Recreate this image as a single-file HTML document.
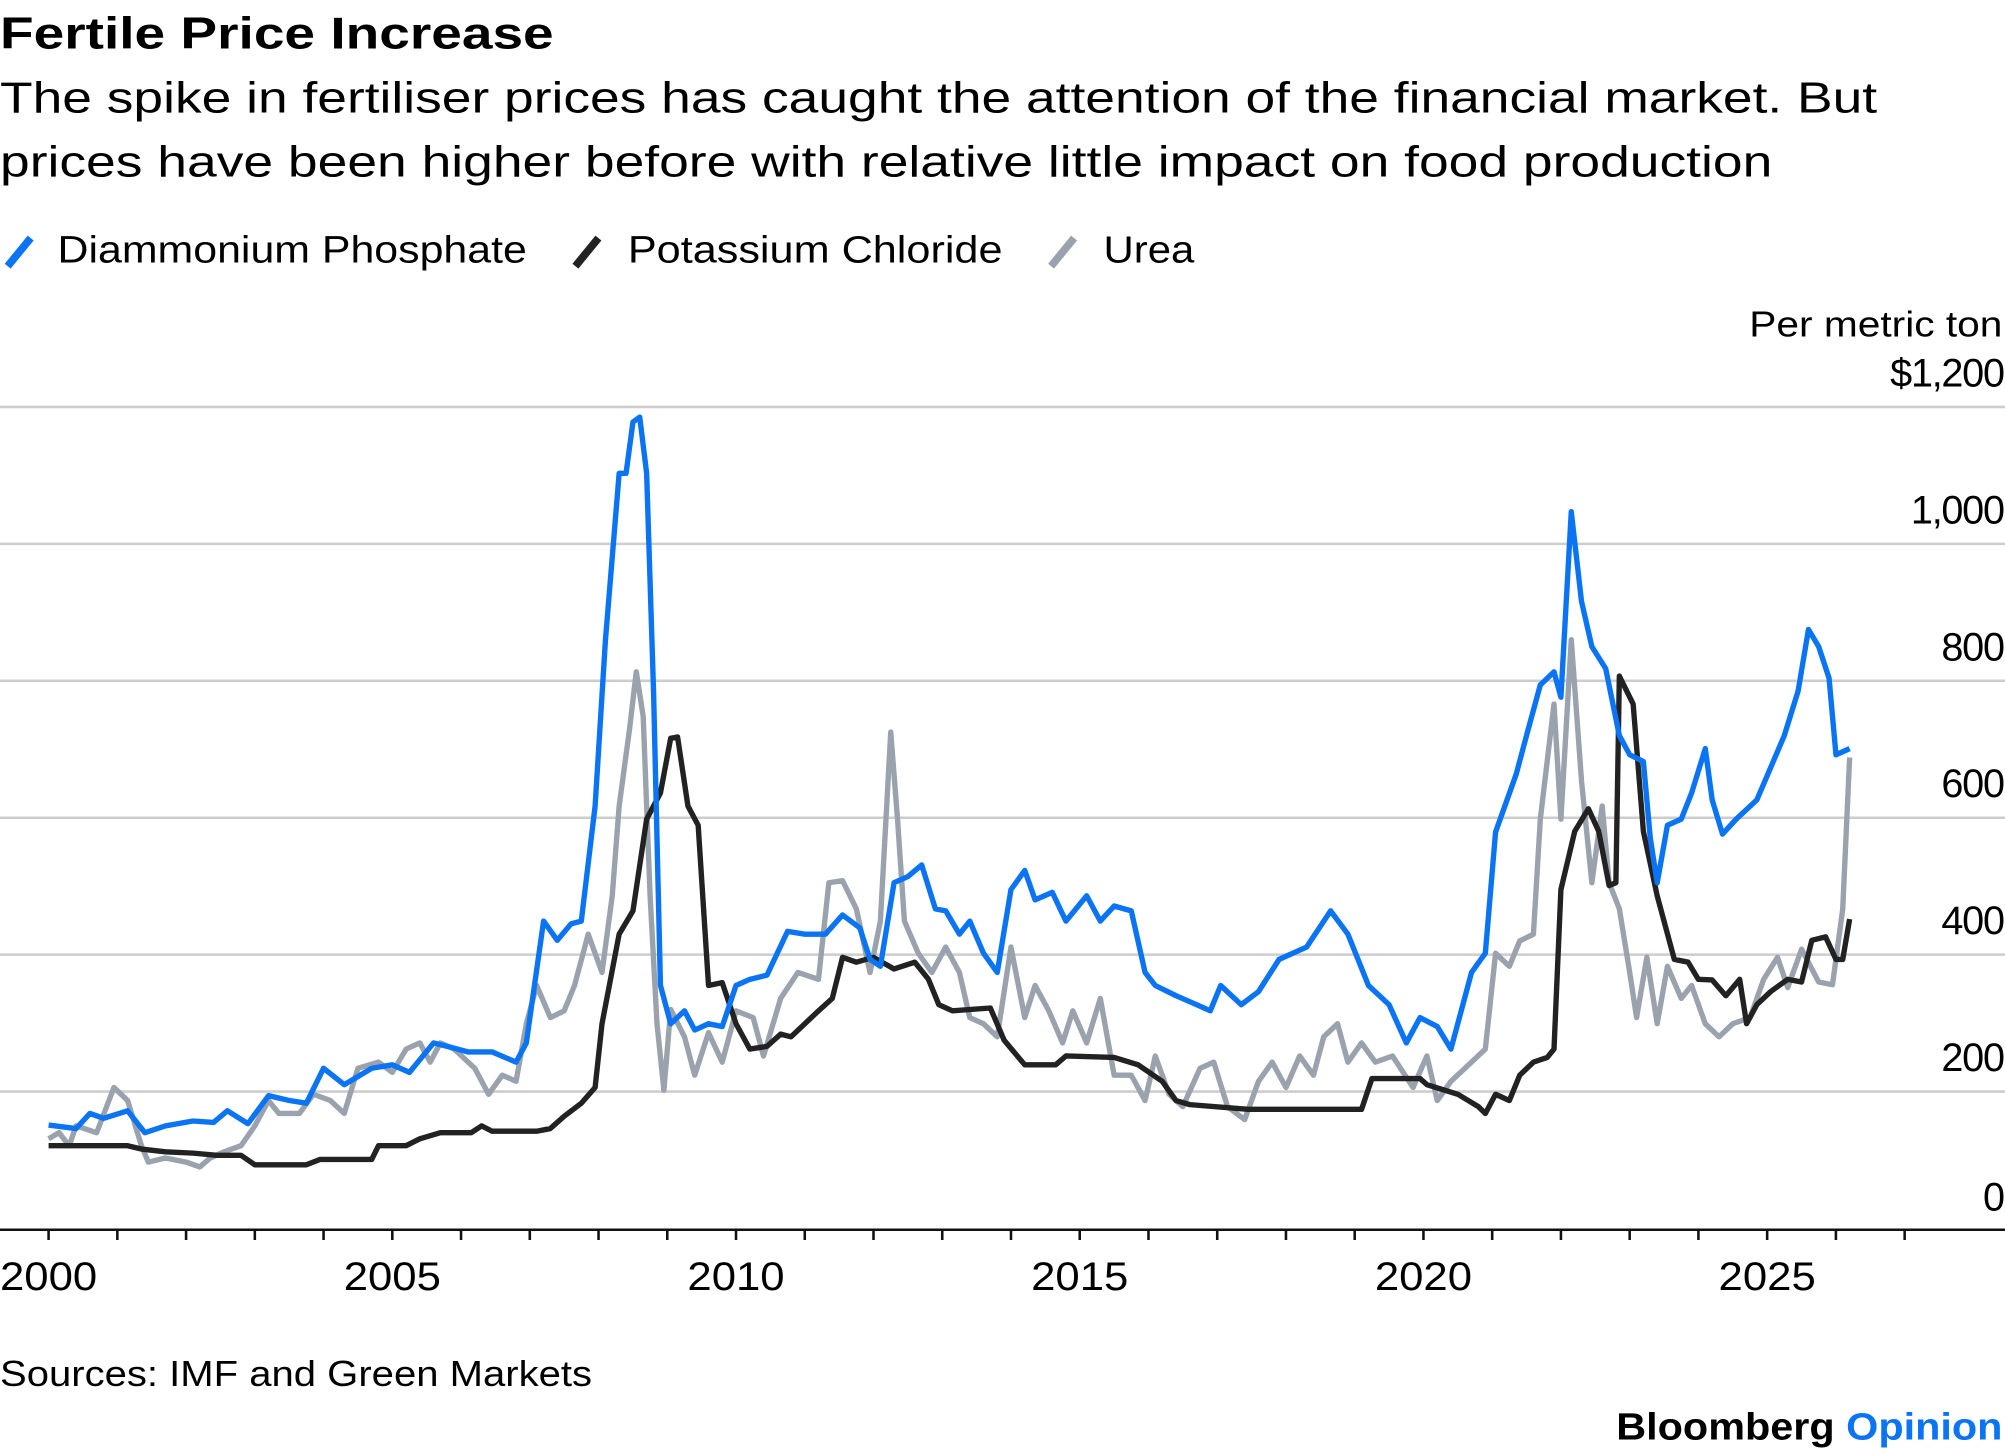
<!DOCTYPE html>
<html><head><meta charset="utf-8"><style>
html,body{margin:0;padding:0;background:#fff;}
svg{display:block;font-family:"Liberation Sans",Arial,sans-serif;}
</style></head><body>
<svg id="chart" width="2005" height="1455" viewBox="0 0 1568 1137" preserveAspectRatio="none" xmlns="http://www.w3.org/2000/svg">
<text x="0" y="38" font-size="35" font-weight="bold" textLength="433" lengthAdjust="spacingAndGlyphs">Fertile Price Increase</text>
<text x="0" y="88" font-size="34" textLength="1468" lengthAdjust="spacingAndGlyphs">The spike in fertiliser prices has caught the attention of the financial market. But</text>
<text x="0" y="138" font-size="34" textLength="1386" lengthAdjust="spacingAndGlyphs">prices have been higher before with relative little impact on food production</text>
<g>
<g><line x1="6" y1="208" x2="24" y2="186" stroke="#0a74f5" stroke-width="6"/><text x="45" y="205" font-size="30" textLength="367" lengthAdjust="spacingAndGlyphs">Diammonium Phosphate</text></g>
<g><line x1="450" y1="208" x2="468" y2="186" stroke="#222" stroke-width="6"/><text x="491" y="205" font-size="30" textLength="293" lengthAdjust="spacingAndGlyphs">Potassium Chloride</text></g>
<g><line x1="822" y1="208" x2="840" y2="186" stroke="#9aa3ad" stroke-width="6"/><text x="863" y="205" font-size="30" textLength="71" lengthAdjust="spacingAndGlyphs">Urea</text></g>
</g>
<text x="1368" y="263" font-size="28" textLength="198" lengthAdjust="spacingAndGlyphs">Per metric ton</text>
<g id="grid"></g>
<g id="ylabels"></g>
<g id="xaxis"></g>
<g id="series"></g>
<text x="0" y="1083" font-size="28" textLength="463" lengthAdjust="spacingAndGlyphs">Sources: IMF and Green Markets</text>
<text x="1264" y="1125" font-size="30" font-weight="bold" textLength="302" lengthAdjust="spacingAndGlyphs">Bloomberg <tspan fill="#0a74f5">Opinion</tspan></text>
</svg>
<script>
const yTicks = [0,200,400,600,800,1000,1200];
const yTickLabels = ["0","200","400","600","800","1,000","$1,200"];
const xTickYears = [2000,2005,2010,2015,2020,2025];
const dapDates = [2000.0,2000.4,2000.6,2000.8,2001.15,2001.4,2001.7,2002.1,2002.4,2002.6,2002.9,2003.2,2003.5,2003.75,2004.0,2004.3,2004.7,2005.0,2005.25,2005.6,2005.8,2006.1,2006.45,2006.8,2006.95,2007.2,2007.4,2007.6,2007.75,2007.95,2008.1,2008.3,2008.4,2008.5,2008.6,2008.7,2008.8,2008.9,2009.05,2009.25,2009.4,2009.6,2009.8,2010.0,2010.2,2010.45,2010.75,2011.0,2011.3,2011.55,2011.8,2011.95,2012.1,2012.3,2012.5,2012.7,2012.9,2013.05,2013.25,2013.4,2013.6,2013.8,2014.0,2014.2,2014.35,2014.6,2014.8,2015.1,2015.3,2015.5,2015.75,2015.95,2016.1,2016.4,2016.7,2016.9,2017.05,2017.35,2017.6,2017.9,2018.3,2018.65,2018.9,2019.2,2019.5,2019.75,2019.95,2020.2,2020.4,2020.7,2020.9,2021.05,2021.35,2021.5,2021.7,2021.9,2022.0,2022.15,2022.3,2022.45,2022.65,2022.85,2023.0,2023.2,2023.3,2023.4,2023.55,2023.75,2023.9,2024.1,2024.2,2024.35,2024.55,2024.85,2025.05,2025.25,2025.45,2025.6,2025.75,2025.9,2026.0,2026.2];
const dapValues = [151,146,168,161,172,140,150,157,155,172,153,194,187,183,234,210,234,239,228,271,266,258,258,243,271,449,421,445,449,617,860,1103,1103,1178,1185,1103,785,355,299,318,290,299,295,355,364,370,434,430,430,458,439,393,383,505,514,531,467,464,430,449,402,374,495,523,480,491,449,486,449,471,464,374,355,340,327,318,355,327,346,393,411,464,430,355,327,271,308,295,262,374,402,579,664,720,794,813,776,1047,916,850,818,720,692,682,570,505,589,598,636,701,626,576,598,626,673,720,785,875,850,804,692,701];
const kclDates = [2000.0,2001.15,2001.35,2001.7,2002.1,2002.45,2002.8,2003.0,2003.75,2003.95,2004.7,2004.8,2005.2,2005.4,2005.7,2006.15,2006.3,2006.45,2007.1,2007.3,2007.5,2007.75,2007.95,2008.05,2008.3,2008.5,2008.7,2008.9,2009.05,2009.15,2009.3,2009.45,2009.6,2009.8,2010.0,2010.2,2010.45,2010.65,2010.8,2011.2,2011.4,2011.55,2011.75,2012.0,2012.3,2012.6,2012.8,2012.95,2013.15,2013.7,2013.9,2014.2,2014.65,2014.8,2015.5,2015.85,2016.2,2016.4,2016.6,2017.45,2019.1,2019.25,2019.95,2020.05,2020.5,2020.8,2020.9,2021.05,2021.25,2021.4,2021.6,2021.8,2021.9,2022.0,2022.2,2022.4,2022.55,2022.7,2022.8,2022.85,2023.05,2023.2,2023.4,2023.65,2023.85,2024.0,2024.2,2024.4,2024.6,2024.7,2024.85,2025.05,2025.3,2025.5,2025.65,2025.85,2026.0,2026.1,2026.2];
const kclValues = [121,121,116,112,110,107,107,93,93,101,101,121,121,131,140,140,150,142,142,146,164,183,206,299,430,464,598,636,716,718,617,589,355,359,299,262,266,284,280,318,336,396,389,396,379,389,364,327,318,322,275,239,239,252,250,239,215,187,181,174,174,219,219,210,196,178,168,196,187,224,243,250,262,495,580,613,580,501,505,807,766,580,486,393,389,364,363,340,364,299,327,346,364,360,421,426,393,393,452];
const ureaDates = [2000.0,2000.15,2000.3,2000.4,2000.7,2000.95,2001.15,2001.35,2001.45,2001.7,2002.0,2002.2,2002.35,2002.55,2002.8,2003.0,2003.2,2003.35,2003.65,2003.85,2004.1,2004.3,2004.5,2004.8,2005.0,2005.2,2005.4,2005.55,2005.7,2005.9,2006.2,2006.4,2006.6,2006.8,2006.95,2007.1,2007.3,2007.5,2007.65,2007.85,2008.05,2008.2,2008.3,2008.45,2008.55,2008.65,2008.75,2008.85,2008.95,2009.05,2009.25,2009.4,2009.6,2009.8,2010.0,2010.25,2010.4,2010.65,2010.9,2011.2,2011.35,2011.55,2011.75,2011.95,2012.1,2012.25,2012.35,2012.45,2012.65,2012.85,2013.05,2013.25,2013.4,2013.6,2013.8,2014.0,2014.2,2014.35,2014.55,2014.75,2014.9,2015.1,2015.3,2015.5,2015.75,2015.95,2016.1,2016.3,2016.5,2016.75,2016.95,2017.15,2017.4,2017.6,2017.8,2018.0,2018.2,2018.4,2018.55,2018.75,2018.9,2019.1,2019.3,2019.55,2019.85,2020.05,2020.2,2020.4,2020.7,2020.9,2021.05,2021.25,2021.4,2021.6,2021.7,2021.9,2022.0,2022.15,2022.3,2022.45,2022.6,2022.7,2022.85,2023.0,2023.1,2023.25,2023.4,2023.55,2023.75,2023.9,2024.1,2024.3,2024.5,2024.75,2024.95,2025.15,2025.3,2025.5,2025.75,2025.95,2026.1,2026.2];
const ureaValues = [131,140,121,150,140,206,187,121,97,103,97,90,103,112,121,150,187,168,168,196,187,168,234,243,228,262,271,243,271,262,234,196,224,215,299,355,308,318,355,430,374,486,617,729,813,748,486,299,202,320,280,224,286,243,318,308,252,336,374,364,505,508,467,374,449,725,598,449,402,374,411,374,308,299,280,411,308,355,318,271,318,271,336,224,224,187,252,196,178,234,243,178,159,215,243,206,252,224,280,299,243,271,243,252,206,252,187,215,243,262,402,383,420,430,598,766,598,860,654,505,617,505,467,374,308,396,299,383,336,355,299,280,299,308,364,396,352,408,360,356,467,688];

const NS = "http://www.w3.org/2000/svg";
const X0 = 38, PX_PER_YEAR = 53.76, Y0 = 960, PX_PER_UNIT = 107/200;
function xScale(year){ return X0 + (year - 2000) * PX_PER_YEAR; }
function yScale(v){ return Y0 - v * PX_PER_UNIT; }
function mk(tag, attrs){ const e = document.createElementNS(NS, tag); for (const k in attrs) e.setAttribute(k, attrs[k]); return e; }

const grid = document.getElementById('grid');
const ylab = document.getElementById('ylabels');
yTicks.forEach((v, i) => {
  if (v > 0) {
    const l = mk('line', {x1: 0, x2: 1568, y1: yScale(v), y2: yScale(v), stroke: '#cdcdcd', 'stroke-width': 2});
    
    
    grid.appendChild(l);
  }
  const t = mk('text', {x: 1567, y: yScale(v) - (v === 0 ? 14 : 16), 'font-size': 31, 'text-anchor': 'end', 'letter-spacing': '-1'});
  t.textContent = yTickLabels[i];
  
  
  ylab.appendChild(t);
});

const xa = document.getElementById('xaxis');
const axis = mk('line', {x1: 0, x2: 1568, y1: 961, y2: 961, stroke: '#111', 'stroke-width': 2});


xa.appendChild(axis);
for (let yr = 2000; yr <= 2027; yr++) {
  const tk = mk('line', {x1: xScale(yr), x2: xScale(yr), y1: 961, y2: 969, stroke: '#111', 'stroke-width': 2});
  
  
  xa.appendChild(tk);
}
xTickYears.forEach(yr => {
  const t = mk('text', {x: xScale(yr) - 38, y: 1008, 'font-size': 31, textLength: 76, lengthAdjust: 'spacingAndGlyphs'});
  t.textContent = String(yr);
  
  
  xa.appendChild(t);
});

const ser = document.getElementById('series');
function drawLine(dates, vals, color, name){
  const d = dates.map((yr, i) => (i ? 'L' : 'M') + xScale(yr).toFixed(1) + ',' + yScale(vals[i]).toFixed(1)).join('');
  const p = mk('path', {d: d, fill: 'none', stroke: color, 'stroke-width': 4.2, 'stroke-linejoin': 'round'});
  
  
  ser.appendChild(p);
}
drawLine(ureaDates, ureaValues, '#9aa3ad', 'urea-line');
drawLine(kclDates, kclValues, '#222222', 'potassium-chloride-line');
drawLine(dapDates, dapValues, '#0a74f5', 'diammonium-phosphate-line');
</script>
</body></html>
